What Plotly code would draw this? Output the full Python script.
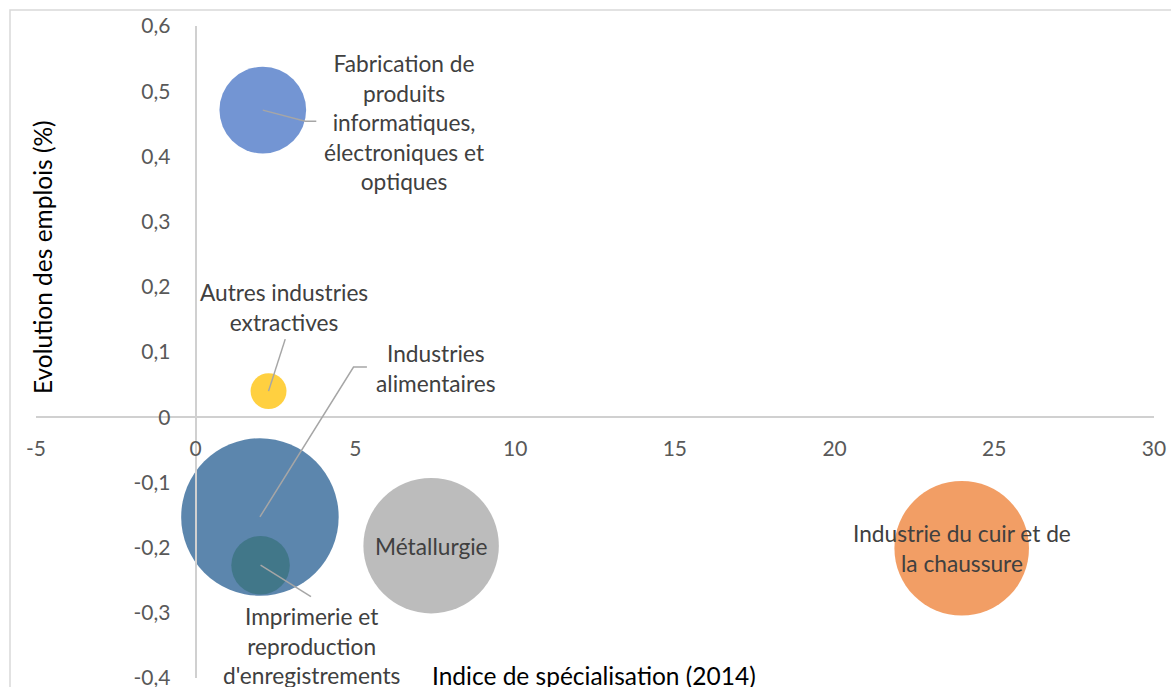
import plotly.graph_objects as go

# --- Données -------------------------------------------------------------
secteurs = [
    "Fabrication de produits informatiques, électroniques et optiques",
    "Autres industries extractives",
    "Industries alimentaires",
    "Imprimerie et reproduction d'enregistrements",
    "Métallurgie",
    "Industrie du cuir et de la chaussure",
]
etiquettes = [
    "Fabrication de<br>produits<br>informatiques,<br>électroniques et<br>optiques",
    "Autres industries<br>extractives",
    "Industries<br>alimentaires",
    "Imprimerie et<br>reproduction<br>d'enregistrements",
    "Métallurgie",
    "Industrie du cuir et de<br>la chaussure",
]
indice_specialisation = [2.10, 2.28, 2.01, 2.03, 7.37, 23.98]
evolution_emplois = [0.471, 0.040, -0.153, -0.227, -0.197, -0.201]
taille_bulles = [30.3, 5.2, 100.0, 13.8, 74.0, 73.0]

x_ticks = [-5, 0, 5, 10, 15, 20, 25, 30]
x_ticktext = ["-5", "0", "5", "10", "15", "20", "25", "30"]
y_ticks = [-0.4, -0.3, -0.2, -0.1, 0, 0.1, 0.2, 0.3, 0.4, 0.5, 0.6]
y_ticktext = ["-0,4", "-0,3", "-0,2", "-0,1", "0", "0,1", "0,2", "0,3", "0,4", "0,5", "0,6"]

# --- Style -----------------------------------------------------------------
couleurs = ["#4472C4", "#FFC000", "#255E91", "#38727E", "#A5A5A5", "#ED7D31"]
FONT = "Lato"
x_range = [-5, 30]
y_range = [-0.40001, 0.6]
diametre_max = 157.5

# label offsets (pixels) relative to each bubble centre
decalages = [(141.5, -12.5), (15.7, 83.3), (176.3, 148.2), (50.6, -81.2), (0, -1), (0, 0)]
# leader lines (pixel paths relative to each bubble centre); None = no line
guides = [
    "M0,0 L42.5,-11.2 L53.5,-11.2",
    "M0,0 L16.7,52",
    "M0,0 L93.6,149.9 L107,149.9",
    "M0,0 L50.4,-31.5",
    None,
    None,
]

fig = go.Figure()
fig.add_trace(go.Scatter(
    x=indice_specialisation,
    y=evolution_emplois,
    mode="markers",
    text=secteurs,
    hoverinfo="text",
    marker=dict(
        size=taille_bulles,
        sizemode="area",
        sizeref=2 * max(taille_bulles) / diametre_max ** 2,
        color=couleurs,
        opacity=0.75,
        line=dict(width=0),
    ),
    showlegend=False,
))

annotations = []
shapes = []
for xi, yi, lab, (dx, dy), g in zip(indice_specialisation, evolution_emplois,
                                     etiquettes, decalages, guides):
    annotations.append(dict(
        x=xi, y=yi, xref="x", yref="y", text=lab, showarrow=False,
        xshift=dx, yshift=dy, align="center",
        font=dict(family=FONT, size=22.7, color="#404040"),
    ))
    if g:
        shapes.append(dict(
            type="path", xref="x", yref="y",
            xsizemode="pixel", ysizemode="pixel",
            xanchor=xi, yanchor=yi, path=g,
            line=dict(color="#A6A6A6", width=1.5), layer="above",
        ))

# axis titles
annotations.append(dict(
    x=0.4991, y=0.0046, xref="paper", yref="paper", showarrow=False,
    text="Indice de spécialisation (2014)", xanchor="center", yanchor="middle",
    font=dict(family=FONT, size=24.5, color="#000000"),
))
annotations.append(dict(
    x=0.0054, y=0.6457, xref="paper", yref="paper", showarrow=False,
    text="Evolution des emplois (%)", textangle=-90,
    xanchor="center", yanchor="middle",
    font=dict(family=FONT, size=24.5, color="#000000"),
))

# chart border
shapes.append(dict(
    type="rect", xref="paper", yref="paper",
    x0=-0.02326, x1=1.05, y0=-0.05, y1=1.02454,
    line=dict(color="#D9D9D9", width=1.5), layer="below",
))

# axes cross at the origin
x_pos = (0 - y_range[0]) / (y_range[1] - y_range[0])
y_pos = (0 - x_range[0]) / (x_range[1] - x_range[0])

fig.update_layout(
    width=1171, height=687,
    margin=dict(l=36, r=17, t=26, b=9),
    paper_bgcolor="white", plot_bgcolor="white",
    font=dict(family=FONT),
    xaxis=dict(
        range=x_range, anchor="free", position=x_pos,
        showline=True, linecolor="#D0D0D0", linewidth=2,
        showgrid=False, zeroline=False, ticks="",
        tickvals=x_ticks, ticktext=x_ticktext, ticklabelstandoff=13,
        tickfont=dict(family=FONT, size=21, color="#595959"),
        ticklabeloverflow="allow",
        automargin=False,
    ),
    yaxis=dict(
        range=y_range, anchor="free", position=y_pos,
        showline=True, linecolor="#D0D0D0", linewidth=2,
        showgrid=False, zeroline=False, ticks="",
        tickvals=y_ticks, ticktext=y_ticktext, ticklabelstandoff=20,
        tickfont=dict(family=FONT, size=21, color="#595959"),
        ticklabeloverflow="allow",
        automargin=False,
    ),
    annotations=annotations,
    shapes=shapes,
)

fig.write_html("out.html")
